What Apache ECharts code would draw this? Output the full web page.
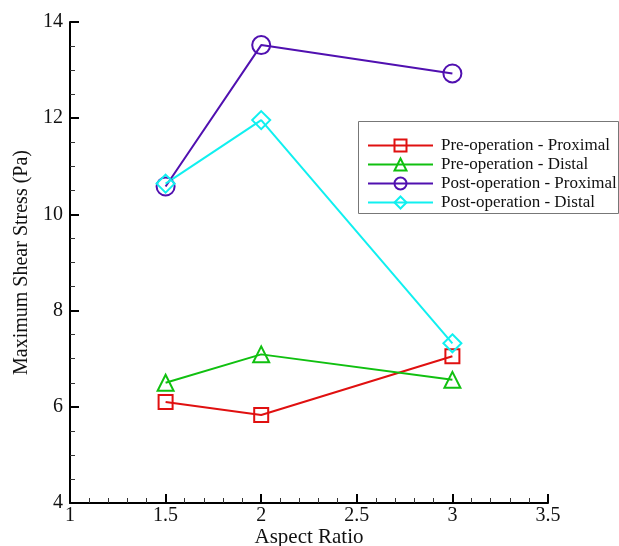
<!DOCTYPE html>
<html><head><meta charset="utf-8">
<script src="https://cdn.jsdelivr.net/npm/echarts@6/dist/echarts.min.js"></script>
<style>html,body{margin:0;padding:0;background:#fff}#c{width:619px;height:546px}</style>
</head><body><div id="c"></div>
<script>
const aspectRatio = [1.5, 2, 3];
const preProximal = [6.1, 5.83, 7.05];
const preDistal = [6.5, 7.09, 6.56];
const postProximal = [10.58, 13.52, 12.93];
const postDistal = [10.64, 11.96, 7.32];
const seriesNames = ['Pre-operation - Proximal','Pre-operation - Distal','Post-operation - Proximal','Post-operation - Distal'];

const font = 'Liberation Serif';
function mk(name, vals, color, symbol, size){
  return {
    name, type:'line', data: aspectRatio.map((x,i)=>[x, vals[i]]),
    symbol, symbolSize: size, showSymbol:true,
    lineStyle:{color, width:2},
    itemStyle:{color:'rgba(255,255,255,0)', borderColor:color, borderWidth:2},
    z: 3
  };
}
const chart = echarts.init(document.getElementById('c'));
chart.setOption({
  animation:false,
  backgroundColor:'#fff',
  grid:{left:70, right:71, top:22, bottom:43, containLabel:false, outerBoundsMode:'none'},
  graphic:[{type:'rect', left:358, top:121, z:100, silent:true,
    shape:{width:260, height:92},
    style:{fill:'#fff', stroke:'#777', lineWidth:1}}],
  xAxis:{type:'value', min:1, max:3.5, interval:0.5,
    name:'Aspect Ratio', nameLocation:'middle', nameGap:24, nameMoveOverlap:false,
    nameTextStyle:{fontFamily:font, fontSize:21, color:'#111'},
    axisLine:{show:true, onZero:false, lineStyle:{color:'#000', width:2}},
    axisTick:{show:true, inside:true, length:9, lineStyle:{color:'#000', width:2}},
    minorTick:{show:true, splitNumber:5, length:5, lineStyle:{color:'#333', width:1}},
    axisLabel:{fontFamily:font, fontSize:20, color:'#111', margin:3},
    splitLine:{show:false}},
  yAxis:{type:'value', min:4, max:14, interval:2,
    name:'Maximum Shear Stress (Pa)', nameLocation:'middle', nameGap:38,
    nameTextStyle:{fontFamily:font, fontSize:20, color:'#111'},
    axisLine:{show:true, onZero:false, lineStyle:{color:'#000', width:2}},
    axisTick:{show:true, inside:true, length:9, lineStyle:{color:'#000', width:2}},
    minorTick:{show:true, splitNumber:4, length:5, lineStyle:{color:'#333', width:1}},
    axisLabel:{fontFamily:font, fontSize:20, color:'#111', margin:7},
    splitLine:{show:false}},
  legend:{
    data: seriesNames, z:110,
    orient:'vertical', left:358, top:121,
    padding:[16,0,0,9], itemGap:2, itemWidth:65, itemHeight:15,
    textStyle:{fontFamily:font, fontSize:17, color:'#111', lineHeight:17, padding:[0,0,0,3]}
  },
  series:[
    mk(seriesNames[0], preProximal, '#e01010', 'rect', 14),
    mk(seriesNames[1], preDistal, '#10c010', 'triangle', 16),
    mk(seriesNames[2], postProximal, '#5010b0', 'circle', 18),
    mk(seriesNames[3], postDistal, '#10f0f0', 'diamond', 18)
  ]
});
</script></body></html>
